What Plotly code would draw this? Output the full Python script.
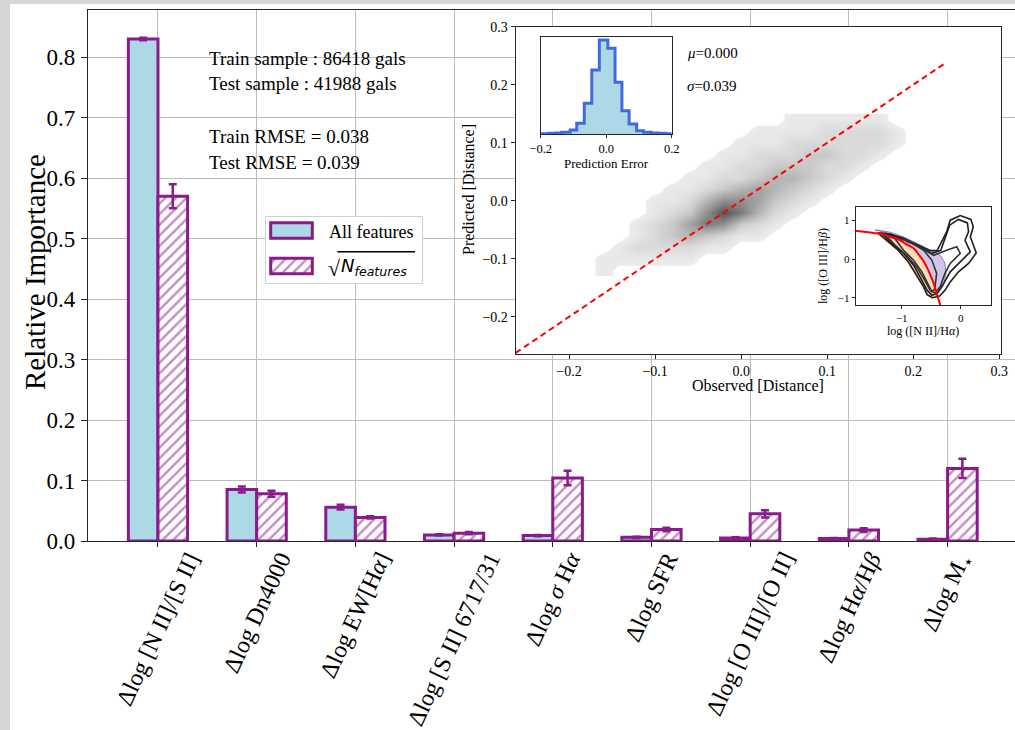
import plotly.graph_objects as go

SERIF = "Liberation Serif"
SANS = "DejaVu Sans"
PURPLE = "#8b1a8b"
BLUE_FILL = "#add8e6"
GRID = "#bdbdbd"
AX = "#262626"

# ---------------- main bar chart data ----------------
feature_labels = [
    "Δlog [N II]/[S II]",
    "Δlog Dn4000",
    "Δlog EW[H<i>α</i>]",
    "Δlog [S II] 6717/31",
    "Δlog <i>σ</i> H<i>α</i>",
    "Δlog SFR",
    "Δlog [O III]/[O II]",
    "Δlog H<i>α</i>/H<i>β</i>",
    "Δlog M<sub>⋆</sub>",
]
all_importance = [0.830, 0.085, 0.056, 0.010, 0.009, 0.006, 0.005, 0.004, 0.003]
all_error = [0.002, 0.005, 0.004, 0.001, 0.001, 0.001, 0.001, 0.001, 0.001]
sqrt_importance = [0.570, 0.078, 0.039, 0.013, 0.104, 0.019, 0.045, 0.018, 0.120]
sqrt_error = [0.020, 0.005, 0.002, 0.002, 0.012, 0.003, 0.006, 0.003, 0.016]
y_ticks = [0.0, 0.1, 0.2, 0.3, 0.4, 0.5, 0.6, 0.7, 0.8]

info_lines = [
    "Train sample : 86418 gals",
    "Test sample : 41988 gals",
    "Train RMSE = 0.038",
    "Test RMSE = 0.039",
]

# ---------------- inset: predicted vs observed (hexbin density, read by eye) ----------------
hex_x = [-0.18, -0.16, -0.14, -0.12, -0.10, -0.08, -0.06, -0.04, -0.02, 0.00,
         0.02, 0.04, 0.06, 0.08, 0.10, 0.12, 0.14, 0.16, 0.18, 0.20]
hex_y = [-0.12, -0.10, -0.08, -0.06, -0.04, -0.02, 0.00, 0.02, 0.04, 0.06,
         0.08, 0.10, 0.12, 0.14]
hex_z = [
    [0, 1, 0, 0, 0, 0, 0, 0, 0, 0, 0, 0, 0, 0, 0, 0, 0, 0, 0, 0],
    [0, 1, 1, 1, 1, 1, 1, 0, 0, 0, 0, 0, 0, 0, 0, 0, 0, 0, 0, 0],
    [0, 0, 1, 2, 2, 2, 2, 1, 1, 0, 0, 0, 0, 0, 0, 0, 0, 0, 0, 0],
    [0, 0, 0, 1, 2, 3, 4, 3, 2, 1, 1, 0, 0, 0, 0, 0, 0, 0, 0, 0],
    [0, 0, 0, 1, 2, 3, 5, 7, 6, 3, 2, 1, 0, 0, 0, 0, 0, 0, 0, 0],
    [0, 0, 0, 0, 1, 2, 3, 6, 9, 7, 4, 2, 1, 0, 0, 0, 0, 0, 0, 0],
    [0, 0, 0, 0, 1, 1, 2, 4, 6, 6, 5, 3, 2, 1, 0, 0, 0, 0, 0, 0],
    [0, 0, 0, 0, 0, 1, 1, 2, 3, 4, 5, 4, 3, 2, 1, 0, 0, 0, 0, 0],
    [0, 0, 0, 0, 0, 0, 1, 1, 2, 2, 3, 4, 4, 3, 2, 1, 0, 0, 0, 0],
    [0, 0, 0, 0, 0, 0, 0, 1, 1, 2, 2, 3, 3, 3, 2, 2, 1, 0, 0, 0],
    [0, 0, 0, 0, 0, 0, 0, 0, 1, 1, 2, 2, 2, 3, 3, 2, 2, 1, 0, 0],
    [0, 0, 0, 0, 0, 0, 0, 0, 0, 1, 1, 1, 2, 2, 2, 2, 2, 2, 1, 0],
    [0, 0, 0, 0, 0, 0, 0, 0, 0, 0, 1, 1, 1, 1, 2, 2, 2, 2, 1, 0],
    [0, 0, 0, 0, 0, 0, 0, 0, 0, 0, 0, 0, 1, 1, 1, 1, 1, 1, 0, 0],
]
one_to_one = [-0.262, 0.236]
inset_ticks = [-0.2, -0.1, 0.0, 0.1, 0.2, 0.3]

# ---------------- inset: prediction-error histogram ----------------
err_edges = [-0.220, -0.198, -0.176, -0.154, -0.136, -0.110, -0.090, -0.067, -0.044,
             -0.021, 0.005, 0.027, 0.048, 0.070, 0.093, 0.114, 0.137, 0.160, 0.182, 0.205]
err_counts = [1, 1, 2, 3, 5, 12, 32, 92, 192, 282, 257, 155, 70, 30, 10, 5, 3, 2, 1]
err_stats = ["<i>μ</i>=0.000", "<i>σ</i>=0.039"]

# ---------------- inset: BPT diagram ----------------
bpt_demarcation = [(-1.78, 0.735), (-1.48, 0.68), (-1.31, 0.64), (-1.20, 0.58), (-1.03, 0.49),
                   (-0.91, 0.37), (-0.80, 0.28), (-0.69, 0.07), (-0.62, -0.08), (-0.55, -0.29),
                   (-0.46, -0.63), (-0.42, -0.85), (-0.38, -1.03), (-0.35, -1.19)]
bpt_sf_fill = [(-1.45, 0.70), (-1.20, 0.66), (-0.97, 0.50), (-0.80, 0.28), (-0.66, 0.02),
               (-0.55, -0.29), (-0.46, -0.63), (-0.42, -0.95), (-0.48, -1.02), (-0.58, -0.93),
               (-0.64, -0.72), (-0.76, -0.42), (-0.90, -0.07), (-1.07, 0.22), (-1.27, 0.48),
               (-1.45, 0.70)]
bpt_comp_fill = [(-1.45, 0.76), (-1.20, 0.70), (-0.97, 0.58), (-0.75, 0.42), (-0.52, 0.24),
                 (-0.35, 0.10), (-0.27, -0.10), (-0.25, -0.40), (-0.30, -0.70), (-0.40, -0.92),
                 (-0.46, -0.63), (-0.55, -0.29), (-0.66, 0.02), (-0.80, 0.28), (-0.97, 0.50),
                 (-1.20, 0.66), (-1.45, 0.76)]
bpt_contours = [
    [(-1.40, 0.68), (-1.20, 0.65), (-0.97, 0.54), (-0.75, 0.39), (-0.52, 0.22), (-0.40, 0.23),
     (-0.31, 0.49), (-0.24, 0.71), (-0.18, 1.01), (-0.01, 1.13), (0.17, 1.03), (0.21, 0.84),
     (0.16, 0.58), (0.26, 0.16), (0.13, -0.11), (-0.04, -0.33), (-0.18, -0.59), (-0.27, -0.81),
     (-0.36, -0.96), (-0.48, -1.00), (-0.57, -0.92), (-0.63, -0.72), (-0.75, -0.42),
     (-0.89, -0.07), (-1.06, 0.23), (-1.26, 0.48), (-1.40, 0.68)],
    [(-1.34, 0.67), (-1.03, 0.56), (-0.75, 0.36), (-0.49, 0.15), (-0.34, 0.23), (-0.27, 0.54),
     (-0.19, 0.88), (-0.04, 1.03), (0.11, 0.94), (0.13, 0.71), (0.07, 0.49), (0.16, 0.19),
     (-0.01, -0.07), (-0.18, -0.33), (-0.29, -0.63), (-0.40, -0.89), (-0.49, -0.94),
     (-0.57, -0.81), (-0.66, -0.55), (-0.80, -0.16), (-0.97, 0.15), (-1.17, 0.41), (-1.34, 0.67)],
    [(-1.28, 0.64), (-0.97, 0.51), (-0.69, 0.30), (-0.46, 0.10), (-0.24, 0.23), (-0.07, 0.32),
     (-0.01, 0.15), (-0.18, -0.11), (-0.27, -0.37), (-0.35, -0.72), (-0.44, -0.88),
     (-0.52, -0.81), (-0.61, -0.55), (-0.75, -0.20), (-0.92, 0.10), (-1.11, 0.36), (-1.28, 0.64)],
    [(-1.14, 0.58), (-0.86, 0.45), (-0.63, 0.23), (-0.49, -0.03), (-0.41, -0.37), (-0.44, -0.76),
     (-0.49, -0.85), (-0.55, -0.68), (-0.66, -0.33), (-0.80, -0.03), (-0.97, 0.23), (-1.14, 0.58)],
]

# ---------------- geometry (pixels of the 1015x730 canvas) ----------------
W, H = 1015, 730
PL, PT, PR, PB = 88, 10, 1015, 541


def px_x(p):
    return (p - PL) / (PR - PL)


def px_y(p):
    return (PB - p) / (PB - PT)


fig = go.Figure()
pos = list(range(len(feature_labels)))

HATCH = dict(shape="/", fgcolor=PURPLE, bgcolor="white", size=7.5, solidity=0.33)

fig.add_trace(go.Bar(
    x=pos, y=all_importance, width=0.3, offset=-0.3,
    marker=dict(color=BLUE_FILL, line=dict(color=PURPLE, width=3)),
    error_y=dict(type="data", array=all_error, color=PURPLE, thickness=2.5, width=4),
    name="All features", hoverinfo="skip"))
fig.add_trace(go.Bar(
    x=pos, y=sqrt_importance, width=0.3, offset=0.0,
    marker=dict(color="white", line=dict(color=PURPLE, width=3), pattern=HATCH),
    error_y=dict(type="data", array=sqrt_error, color=PURPLE, thickness=2.5, width=4),
    name="sqrt N", hoverinfo="skip"))

# inset 1: hexbin-like density + 1:1 line
fig.add_trace(go.Heatmap(
    x=hex_x, y=hex_y, z=hex_z, xaxis="x2", yaxis="y2", zmin=0, zmax=9, zsmooth="best",
    colorscale=[[0, "#ffffff"], [0.05, "#ffffff"], [0.056, "#ececec"], [0.111, "#e8e8e8"],
                [0.222, "#dadada"], [0.333, "#c9c9c9"], [0.444, "#b6b6b6"],
                [0.556, "#a3a3a3"], [0.667, "#8f8f8f"], [0.778, "#7b7b7b"],
                [1.0, "#555555"]],
    showscale=False, hoverinfo="skip"))
fig.add_trace(go.Scatter(
    x=one_to_one, y=one_to_one, mode="lines", xaxis="x2", yaxis="y2",
    line=dict(color="red", width=2, dash="6px,4px"), hoverinfo="skip"))

# inset 2: histogram of prediction errors
fig.add_trace(go.Scatter(
    x=err_edges, y=err_counts + [err_counts[-1]], mode="lines", xaxis="x3", yaxis="y3",
    line=dict(shape="hv", color="#4169e1", width=3), fill="tozeroy", fillcolor=BLUE_FILL,
    hoverinfo="skip"))

# inset 3: BPT diagram
fig.add_trace(go.Scatter(
    x=[p[0] for p in bpt_sf_fill], y=[p[1] for p in bpt_sf_fill], mode="lines",
    xaxis="x4", yaxis="y4", fill="toself", fillcolor="rgba(250,205,160,0.75)",
    line=dict(color="rgba(240,160,80,0.8)", width=1), hoverinfo="skip"))
fig.add_trace(go.Scatter(
    x=[p[0] for p in bpt_comp_fill], y=[p[1] for p in bpt_comp_fill], mode="lines",
    xaxis="x4", yaxis="y4", fill="toself", fillcolor="rgba(150,130,205,0.45)",
    line=dict(color="rgba(110,80,170,0.7)", width=1), hoverinfo="skip"))
for k, loop in enumerate(bpt_contours):
    fig.add_trace(go.Scatter(
        x=[p[0] for p in loop], y=[p[1] for p in loop], mode="lines", xaxis="x4", yaxis="y4",
        line=dict(color="#1e1e1e" if k < 2 else "#333333", width=1.6), hoverinfo="skip"))
fig.add_trace(go.Scatter(
    x=[p[0] for p in bpt_demarcation], y=[p[1] for p in bpt_demarcation], mode="lines",
    xaxis="x4", yaxis="y4", line=dict(color="red", width=2, shape="spline"), hoverinfo="skip"))

# legend patches (drawn in a hidden pixel-scaled axis pair)
LEG = dict(x0=265, x1=423, y0=216, y1=284)
fig.add_trace(go.Bar(
    x=[26.5], y=[15.6], base=[45.7], width=[41.6], xaxis="x5", yaxis="y5",
    marker=dict(color=BLUE_FILL, line=dict(color=PURPLE, width=3)), hoverinfo="skip"))
fig.add_trace(go.Bar(
    x=[26.5], y=[15.6], base=[10.2], width=[41.6], xaxis="x5", yaxis="y5",
    marker=dict(color="white", line=dict(color=PURPLE, width=3), pattern=HATCH),
    hoverinfo="skip"))

annotations = []
# rotated category labels
for i, lab in enumerate(feature_labels):
    annotations.append(dict(
        x=i, y=px_y(546), xref="x", yref="paper", text=lab, textangle=-65,
        xanchor="center", yanchor="top", showarrow=False,
        font=dict(family=SERIF, size=24, color="black")))
# y-axis title
annotations.append(dict(
    x=px_x(35), y=px_y(272), xref="paper", yref="paper", text="Relative Importance",
    textangle=-90, xanchor="center", yanchor="middle", showarrow=False,
    font=dict(family=SERIF, size=29, color="black")))
# info text
for txt, yy in zip(info_lines, [58.3, 83.3, 136.7, 162.7]):
    annotations.append(dict(
        x=px_x(207), y=px_y(yy), xref="paper", yref="paper", text=txt,
        xanchor="left", yanchor="middle", showarrow=False,
        font=dict(family=SERIF, size=19, color="black")))
# histogram stats
for txt, yy in zip(err_stats, [53.3, 85.7]):
    annotations.append(dict(
        x=px_x(685), y=px_y(yy), xref="paper", yref="paper", text=txt,
        xanchor="left", yanchor="middle", showarrow=False,
        font=dict(family=SERIF, size=15, color="black")))
# inset axis titles
annotations += [
    dict(x=px_x(758), y=px_y(385), xref="paper", yref="paper", text="Observed [Distance]",
         xanchor="center", yanchor="middle", showarrow=False,
         font=dict(family=SERIF, size=16, color="black")),
    dict(x=px_x(468), y=px_y(190), xref="paper", yref="paper", text="Predicted [Distance]",
         textangle=-90, xanchor="center", yanchor="middle", showarrow=False,
         font=dict(family=SERIF, size=16, color="black")),
    dict(x=px_x(606), y=px_y(163), xref="paper", yref="paper", text="Prediction Error",
         xanchor="center", yanchor="middle", showarrow=False,
         font=dict(family=SERIF, size=13, color="black")),
    dict(x=px_x(923), y=px_y(331), xref="paper", yref="paper", text="log ([N II]/H<i>α</i>)",
         xanchor="center", yanchor="middle", showarrow=False,
         font=dict(family=SERIF, size=12, color="black")),
    dict(x=px_x(823), y=px_y(266), xref="paper", yref="paper", text="log ([O III]/H<i>β</i>)",
         textangle=-90, xanchor="center", yanchor="middle", showarrow=False,
         font=dict(family=SERIF, size=12, color="black")),
]
# legend labels
annotations += [
    dict(x=61.7, y=52.3, xref="x5", yref="y5", text="All features", xanchor="left",
         yanchor="middle", showarrow=False, font=dict(family=SERIF, size=18, color="black")),
    dict(x=61.0, y=16.0, xref="x5", yref="y5", text="√", xanchor="left",
         yanchor="middle", showarrow=False, font=dict(family=SERIF, size=22, color="black")),
    dict(x=74.0, y=17.5, xref="x5", yref="y5", text="<i>N<sub>features</sub></i>",
         xanchor="left", yanchor="middle", showarrow=False,
         font=dict(family=SANS, size=18, color="black")),
]

shapes = [
    # white backgrounds of the insets (cover the main grid)
    dict(type="rect", xref="x2", yref="y2", x0=-0.262, x1=0.302, y0=-0.264, y1=0.3,
         fillcolor="white", line=dict(width=0), layer="below"),
    dict(type="rect", xref="x3", yref="y3", x0=-0.2, x1=0.2, y0=0, y1=292,
         fillcolor="white", line=dict(width=0), layer="below"),
    dict(type="rect", xref="x4", yref="y4", x0=-1.78, x1=0.51, y0=-1.19, y1=1.36,
         fillcolor="white", line=dict(width=0), layer="below"),
    # legend frame
    dict(type="rect", xref="x5", yref="y5", x0=0.5, x1=157.5, y0=0.5, y1=67.5,
         fillcolor="white", line=dict(color="#d0d0d0", width=1), layer="below"),
    # overline of the square root
    dict(type="line", xref="x5", yref="y5", x0=72.3, x1=150, y0=32.3, y1=32.3,
         line=dict(color="black", width=1.5), layer="above"),
    # grey page border
    dict(type="rect", xref="paper", yref="paper", x0=px_x(0), x1=px_x(10), y0=px_y(730),
         y1=px_y(0), fillcolor="#d6d6d6", line=dict(width=0), layer="above"),
    dict(type="rect", xref="paper", yref="paper", x0=px_x(0), x1=px_x(1015), y0=px_y(4),
         y1=px_y(0), fillcolor="#d6d6d6", line=dict(width=0), layer="above"),
]

small_axis = dict(showline=True, mirror=True, linecolor=AX, linewidth=1.2, showgrid=False,
                  zeroline=False, ticks="outside", tickcolor=AX, automargin=False)

fig.update_layout(
    width=W, height=H,
    margin=dict(l=PL, r=W - PR, t=PT, b=H - PB, pad=0),
    paper_bgcolor="white", plot_bgcolor="white",
    font=dict(family=SERIF, color="black"),
    showlegend=False, barmode="overlay",
    xaxis=dict(domain=[0, 1], range=[-0.709, 8.683], tickvals=pos, showticklabels=False,
               ticks="outside", ticklen=5, tickcolor=AX, showgrid=True, gridcolor=GRID,
               gridwidth=1, showline=True, linecolor=AX, linewidth=1.2, mirror=True,
               zeroline=False, automargin=False),
    yaxis=dict(domain=[0, 1], range=[0, 0.878], tickvals=y_ticks, tickformat=".1f",
               ticks="outside", ticklen=6, tickcolor=AX, showgrid=True, gridcolor=GRID,
               gridwidth=1, showline=True, linecolor=AX, linewidth=1.2, zeroline=False,
               ticklabelstandoff=1,
               tickfont=dict(family=SERIF, size=23, color="black"), automargin=False),
    xaxis2=dict(domain=[px_x(515.7), px_x(1001)], anchor="y2", range=[-0.262, 0.302],
                tickvals=inset_ticks, tickformat=".1f", ticklen=4,
                tickfont=dict(family=SERIF, size=14, color="black"), **small_axis),
    yaxis2=dict(domain=[px_y(354), px_y(26.7)], anchor="x2", range=[-0.264, 0.3],
                tickvals=inset_ticks, tickformat=".1f", ticklen=4,
                tickfont=dict(family=SERIF, size=14, color="black"), **small_axis),
    xaxis3=dict(domain=[px_x(540.7), px_x(671.7)], anchor="y3", range=[-0.2, 0.2],
                tickvals=[-0.2, 0.0, 0.2], tickformat=".1f", ticklen=3,
                tickfont=dict(family=SERIF, size=12.5, color="black"), **small_axis),
    yaxis3=dict(domain=[px_y(134), px_y(36.7)], anchor="x3", range=[0, 292],
                showticklabels=False, **{k: v for k, v in small_axis.items() if k != "ticks"},
                ticks=""),
    xaxis4=dict(domain=[px_x(855.7), px_x(991)], anchor="y4", range=[-1.78, 0.51],
                tickvals=[-1, 0], ticklen=3,
                tickfont=dict(family=SERIF, size=11, color="black"), **small_axis),
    yaxis4=dict(domain=[px_y(305), px_y(206.7)], anchor="x4", range=[-1.19, 1.36],
                tickvals=[-1, 0, 1], ticklen=3,
                tickfont=dict(family=SERIF, size=11, color="black"), **small_axis),
    xaxis5=dict(domain=[px_x(LEG["x0"]), px_x(LEG["x1"])], anchor="y5", range=[0, 158],
                visible=False, fixedrange=True),
    yaxis5=dict(domain=[px_y(LEG["y1"]), px_y(LEG["y0"])], anchor="x5", range=[0, 68],
                visible=False, fixedrange=True),
    annotations=annotations,
    shapes=shapes,
)

fig.write_html("out.html", config={"displayModeBar": False},
               post_script="document.body.style.margin='0px';document.body.style.overflow='hidden';")
